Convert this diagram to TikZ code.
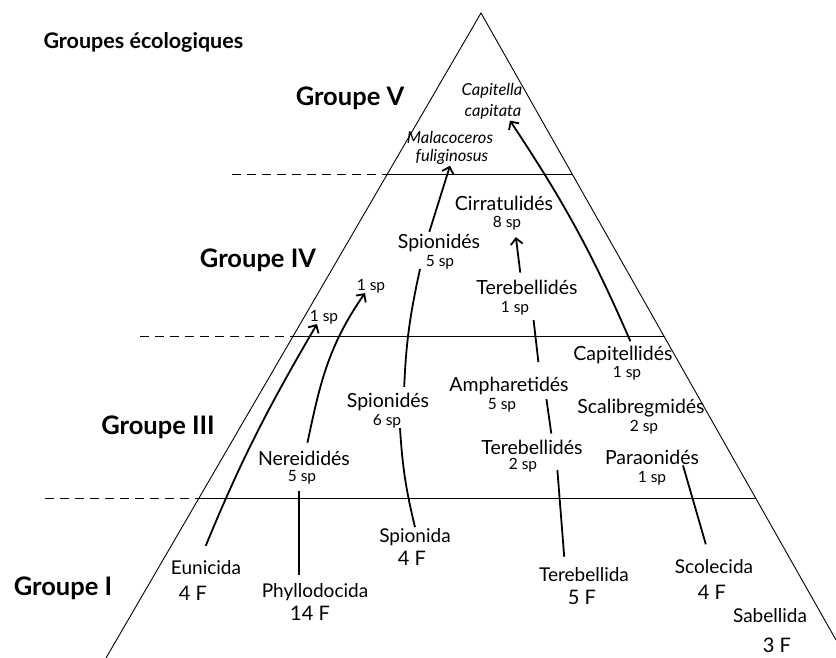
\documentclass[tikz,border=0pt]{standalone}
\usepackage{fontspec}
\setmainfont{Lato}
\usetikzlibrary{arrows.meta}

\begin{document}
\begin{tikzpicture}[x=1pt,y=1pt,
    titre/.style={font=\bfseries\fontsize{21.5}{24}\selectfont},
    groupe/.style={font=\bfseries\fontsize{25.5}{28}\selectfont},
    famille/.style={font=\fontsize{19.5}{22}\selectfont,inner sep=1pt},
    nsp/.style={font=\fontsize{15.5}{18}\selectfont,inner sep=0pt},
    ordre/.style={font=\fontsize{19}{22}\selectfont,inner sep=1pt},
    nbf/.style={font=\fontsize{20}{24}\selectfont,inner sep=1pt},
    espece/.style={font=\itshape\fontsize{16.5}{19}\selectfont,inner sep=1pt},
    lien/.style={line width=1.8pt},
    fleche/.style={lien,-{Straight Barb[length=6pt,width=12pt,line width=1.8pt]}},
    niveau/.style={line width=1pt},
    tirets/.style={line width=1pt,dash pattern=on 9pt off 6pt}]
  \useasboundingbox (0,0) rectangle (836,658);

  \draw[line width=0.9pt] (106,0) -- (481,645) -- (836,18);
  \draw[niveau] (387,483) -- (573,483);
  \draw[niveau] (292,321) -- (664,321);
  \draw[niveau] (198,159) -- (756,159);
  \draw[tirets] (232,483) -- (387,483);
  \draw[tirets] (140,321) -- (292,321);
  \draw[tirets] (45,159) -- (198,159);

  \node[titre,anchor=west] (titre) at (40,616) {Groupes écologiques};
  \node[groupe] (g5) at (350,560) {Groupe V};
  \node[groupe] (g4) at (258,398) {Groupe IV};
  \node[groupe] (g3) at (158,231) {Groupe III};
  \node[groupe] (g1) at (63,70) {Groupe I};

  \node[espece] (capA) at (492,567) {Capitella};
  \node[espece] (capB) at (493,546) {capitata};
  \node[espece] (malA) at (450,521) {Malacoceros};
  \node[espece] (malB) at (452,501) {fuliginosus};

  \node[famille] (cirr) at (504,455) {Cirratulidés};
  \node[nsp] (cirrN) at (507,435) {8 sp};
  \node[famille] (spioV) at (439,415) {Spionidés};
  \node[nsp] (spioVN) at (440,396) {5 sp};
  \node[nsp] (unR) at (371,372) {1 sp};
  \node[nsp] (unL) at (324,341) {1 sp};
  \node[famille] (tereV) at (527,371) {Terebellidés};
  \node[nsp] (tereVN) at (515,350) {1 sp};

  \node[famille] (capit) at (623,303) {Capitellidés};
  \node[nsp] (capitN) at (627,285) {1 sp};
  \node[famille] (amph) at (509,272) {Ampharetidés};
  \node[nsp] (amphN) at (502,253) {5 sp};
  \node[famille] (spioIII) at (388,256) {Spionidés};
  \node[nsp] (spioIIIN) at (387,237) {6 sp};
  \node[famille] (scal) at (641,250) {Scalibregmidés};
  \node[nsp] (scalN) at (644,231) {2 sp};
  \node[famille] (tereIII) at (532,211) {Terebellidés};
  \node[nsp] (tereIIIN) at (523,193) {2 sp};
  \node[famille] (nere) at (304,200) {Nereididés};
  \node[nsp] (nereN) at (302,181) {5 sp};
  \node[famille] (para) at (652,201) {Paraonidés};
  \node[nsp] (paraN) at (652,180) {1 sp};

  \node[ordre] (euni) at (206,90) {Eunicida};
  \node[nbf] (euniN) at (193,65) {4 F};
  \node[ordre] (phyl) at (315,66) {Phyllodocida};
  \node[nbf] (phylN) at (310,45) {14 F};
  \node[ordre] (spioI) at (415,121) {Spionida};
  \node[nbf] (spioIN) at (412,100) {4 F};
  \node[ordre] (tereI) at (584,83) {Terebellida};
  \node[nbf] (tereIN) at (582,61) {5 F};
  \node[ordre] (scol) at (714,91) {Scolecida};
  \node[nbf] (scolN) at (712,66) {4 F};
  \node[ordre] (sabe) at (770,42) {Sabellida};
  \node[nbf] (sabeN) at (777,13) {3 F};

  \draw[fleche,shorten <=1pt] ([xshift=-10pt]spioV.north) -- ([xshift=-2pt]malB.south);
  \draw[fleche,shorten <=4pt] ([xshift=9pt]capit.north) to[bend right=5] ([xshift=17pt]capB.south);
  \draw[fleche,shorten <=6pt,shorten >=7pt] ([xshift=-6pt]tereV.north) -- ([xshift=8pt]cirrN.south);
  \draw[lien,shorten <=5pt] ([xshift=16pt]spioIII.north) to[bend left=5] ([xshift=-20pt]spioVN.south);
  \draw[lien] (spioI.north) to[bend left=5] ([xshift=13pt]spioIIIN.south);
  \draw[fleche,shorten <=15pt] ([xshift=-6pt]euni.north) to[bend left=4] ([xshift=-7pt]unL.south);
  \draw[fleche,shorten <=7pt] ([xshift=2pt]nere.north) to[out=78,in=235] ([xshift=-6pt]unR.south);
  \draw[lien,shorten <=7pt,shorten >=7pt] ([xshift=-16pt]phyl.north) -- ([xshift=-3pt]nereN.south);
  \draw[lien,shorten <=10pt] ([xshift=-19pt]tereI.north) -- ([xshift=20pt,yshift=-5pt]tereIIIN.east);
  \draw[lien,shorten <=5pt,shorten >=3pt] ([xshift=20pt]tereIII.north) -- ([xshift=37pt]amph.south);
  \draw[lien,shorten <=14pt,shorten >=5pt] ([xshift=31pt]amph.north) -- ([xshift=18pt]tereVN.south);
  \draw[lien,shorten <=15pt] ([xshift=-4pt]scol.north) -- ([xshift=31pt]para.south);
\end{tikzpicture}
\end{document}
